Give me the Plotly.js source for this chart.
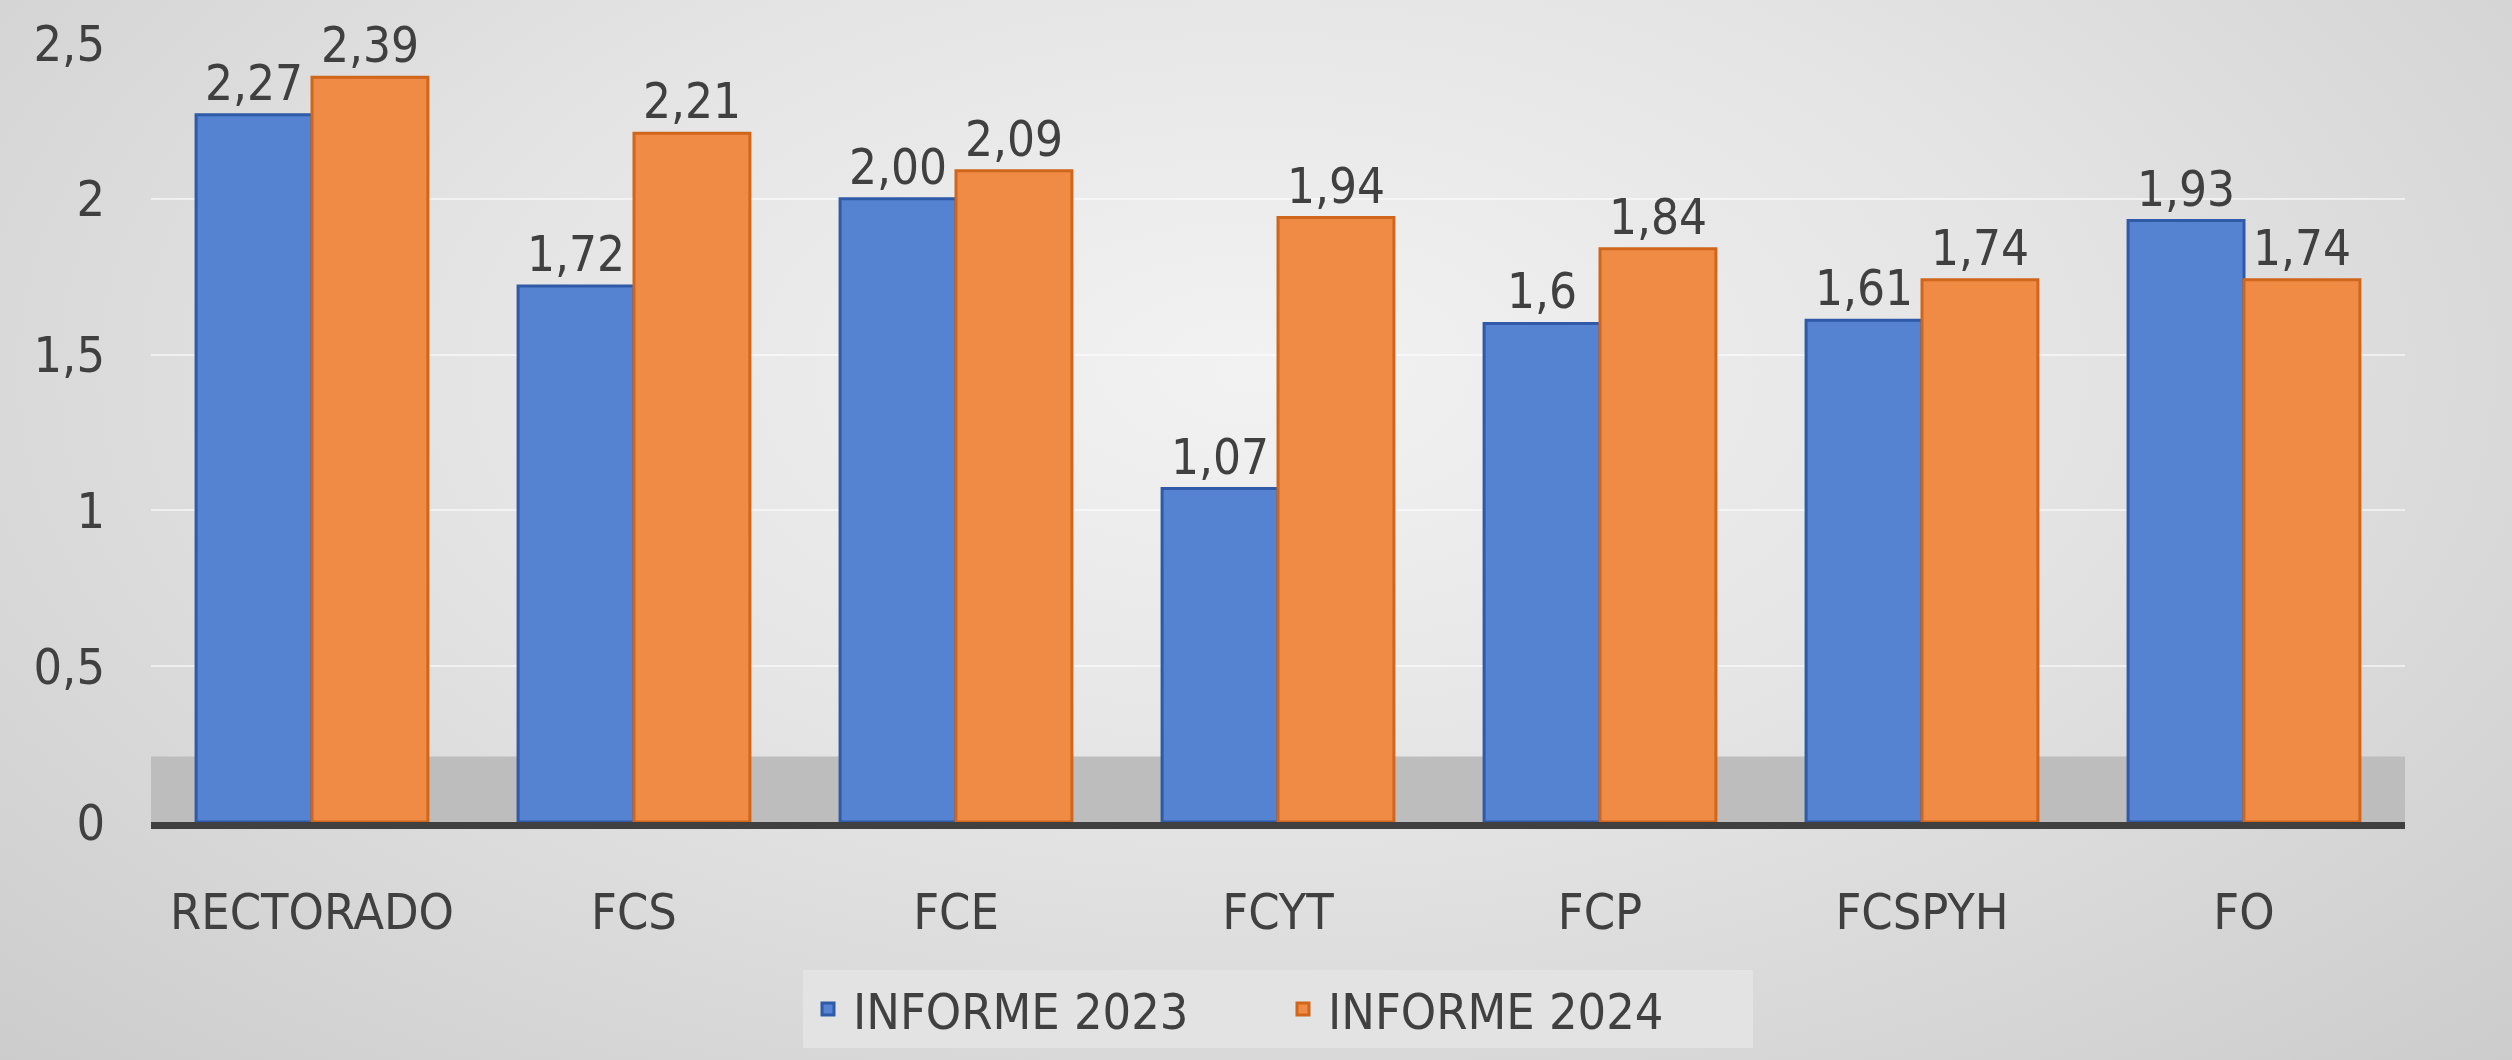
<!DOCTYPE html>
<html>
<head>
<meta charset="utf-8">
<script src="https://cdn.plot.ly/plotly-3.0.1.min.js"></script>
<style>
  html, body { margin: 0; padding: 0; }
  #chart {
    width: 2512px; height: 1060px;
    background: radial-gradient(ellipse at 50% 35%, #F2F2F2 0%, #E4E4E4 45%, #CCCCCC 100%);
  }
</style>
</head>
<body>
<div id="chart"></div>
<script>
const categories = ["RECTORADO", "FCS", "FCE", "FCYT", "FCP", "FCSPYH", "FO"];
const informe2023 = [2.27, 1.72, 2.00, 1.07, 1.60, 1.61, 1.93];
const informe2024 = [2.39, 2.21, 2.09, 1.94, 1.84, 1.74, 1.74];
const labels2023 = ["2,27", "1,72", "2,00", "1,07", "1,6", "1,61", "1,93"];
const labels2024 = ["2,39", "2,21", "2,09", "1,94", "1,84", "1,74", "1,74"];
const seriesNames = ["INFORME 2023", "INFORME 2024"];

const FONT = '"Liberation Sans Narrow", "DejaVu Sans Condensed", "Noto Sans", sans-serif';

const traces = [
  {
    type: "bar", name: seriesNames[0], x: categories, y: informe2023,
    text: labels2023, textposition: "outside", cliponaxis: false,
    textfont: { family: FONT, size: 49, color: "#404040" },
    marker: { color: "#5583D2", line: { color: "#2F5AA8", width: 3 } },
    hoverinfo: "x+y"
  },
  {
    type: "bar", name: seriesNames[1], x: categories, y: informe2024,
    text: labels2024, textposition: "outside", cliponaxis: false,
    textfont: { family: FONT, size: 49, color: "#404040" },
    marker: { color: "#F08B45", line: { color: "#D0661C", width: 3 } },
    hoverinfo: "x+y"
  }
];

const layout = {
  width: 2512, height: 1060,
  paper_bgcolor: "rgba(0,0,0,0)",
  plot_bgcolor: "rgba(0,0,0,0)",
  separators: ",.",
  margin: { l: 151, r: 107, t: 43, b: 232 },
  barmode: "group",
  bargap: 0.28,
  bargroupgap: 0,
  font: { family: FONT, size: 49, color: "#404040" },
  xaxis: {
    type: "category",
    showline: true, linecolor: "#404040", linewidth: 7,
    ticks: "", ticklabelstandoff: 40,
    tickfont: { family: FONT, size: 50, color: "#404040" },
    showgrid: false, zeroline: false
  },
  yaxis: {
    range: [0, 2.5], dtick: 0.5, tick0: 0,
    showgrid: true, gridcolor: "rgba(255,255,255,0.55)", gridwidth: 2,
    zeroline: false, showline: false, ticks: "",
    ticklabelstandoff: 45,
    tickfont: { family: FONT, size: 50, color: "#404040" }
  },
  shapes: [
    { type: "rect", layer: "below", xref: "paper", yref: "y",
      x0: 0, x1: 1, y0: 0, y1: 0.21,
      fillcolor: "#BDBDBD", line: { width: 0 } }
  ],
  legend: {
    orientation: "h", x: 0.5, xanchor: "center", y: -0.19, yanchor: "top",
    bgcolor: "#E3E3E3", borderwidth: 0,
    font: { family: FONT, size: 50, color: "#404040" },
    entrywidth: 420, entrywidthmode: "pixels",
    itemwidth: 40, traceorder: "normal"
  },
  showlegend: true
};

Plotly.newPlot("chart", traces, layout, { displayModeBar: false, staticPlot: true });
</script>
</body>
</html>
